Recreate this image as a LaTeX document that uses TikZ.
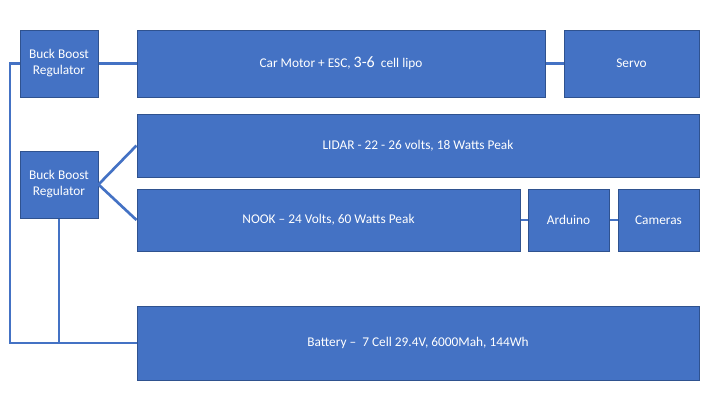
\documentclass[tikz,border=0pt]{standalone}
\usepackage{fontspec}
\setmainfont{Carlito}
\definecolor{boxfill}{HTML}{4472C4}
\definecolor{boxline}{HTML}{2F528F}
\begin{document}
\begin{tikzpicture}[x=0.75pt,y=-0.75pt,
  blk/.style={draw=boxline,fill=boxfill,line width=0.75pt,text=white,inner sep=0pt,
    font=\fontsize{10}{12}\selectfont,align=center},
  wire/.style={draw=boxfill,line width=2pt}]
\useasboundingbox (0,0) rectangle (720,405);
\node[blk,minimum width=58.5pt,minimum height=50.25pt] (bb1) at (59,63.5) {Buck Boost\\Regulator};
\node[blk,minimum width=306pt,minimum height=50.25pt] (car) at (341,63.5) {Car Motor + ESC, {\fontsize{12}{14}\selectfont 3-6}\ \ cell lipo};
\node[blk,minimum width=101.25pt,minimum height=50.25pt] (servo) at (631.5,63.5) {Servo};
\node[blk,minimum width=421.5pt,minimum height=47.25pt] (lidar) at (418,145.5) {LIDAR - 22 - 26 volts, 18 Watts Peak};
\node[blk,minimum width=58.5pt,minimum height=50.25pt] (bb2) at (59,184.5) {Buck Boost\\Regulator};
\node[blk,minimum width=287.25pt,minimum height=46.5pt] (nook) at (328.5,220) {NOOK – 24 Volts, 60 Watts Peak};
\node[blk,minimum width=60.75pt,minimum height=46.5pt] (ard) at (568.5,220) {Arduino};
\node[blk,minimum width=60.75pt,minimum height=46.5pt] (cam) at (658.5,220) {Cameras};
\node[blk,minimum width=421.5pt,minimum height=55.5pt] (bat) at (418,343) {Battery –\ \ 7 Cell 29.4V, 6000Mah, 144Wh};
\coordinate (c1) at (10,63.5);
\coordinate (c2) at (10,343);
\path[wire] (bb1.east) -- (car.west);
\path[wire] (car.east) -- (servo.west);
\path[wire] (bb2.east) -- (lidar.west);
\path[wire] (bb2.east) -- (nook.west);
\path[wire] (nook.east) -- (ard.west);
\path[wire] (ard.east) -- (cam.west);
\path[wire] (bb1.west) -- (c1) -- (c2) -- (bat.west);
\path[wire] (bb2.south) -- (bb2.south |- bat.west);
\end{tikzpicture}
\end{document}
